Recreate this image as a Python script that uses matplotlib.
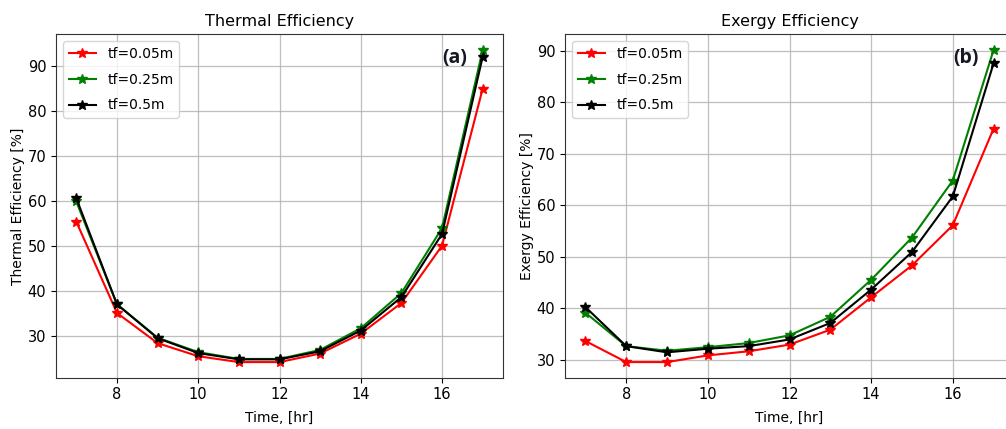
import matplotlib as mpl
mpl.use("Agg")
import matplotlib.pyplot as plt

# data
hours = [7, 8, 9, 10, 11, 12, 13, 14, 15, 16, 17]
labels = ["tf=0.05m", "tf=0.25m", "tf=0.5m"]
colors = ["red", "green", "black"]

thermal_005 = [55.4, 35.2, 28.5, 25.6, 24.3, 24.3, 26.2, 30.6, 37.4, 50.1, 84.9]
thermal_025 = [59.9, 37.1, 29.7, 26.5, 25.0, 25.0, 27.0, 31.8, 39.6, 54.0, 93.5]
thermal_05 = [60.6, 37.1, 29.6, 26.3, 24.9, 24.9, 26.7, 31.3, 38.7, 52.7, 92.0]

exergy_005 = [33.6, 29.5, 29.5, 30.8, 31.6, 32.9, 35.8, 42.1, 48.3, 56.1, 74.9]
exergy_025 = [39.1, 32.6, 31.7, 32.4, 33.2, 34.7, 38.3, 45.5, 53.7, 64.8, 90.2]
exergy_05 = [40.2, 32.6, 31.4, 32.1, 32.6, 33.9, 37.1, 43.6, 50.9, 61.7, 87.6]

plt.rcParams["font.size"] = 10

fig = plt.figure(figsize=(10.06, 4.29), dpi=100)
ax1 = fig.add_axes([56 / 1006, 51.3 / 429, 447 / 1006, 343.4 / 429])
ax2 = fig.add_axes([565 / 1006, 51.3 / 429, 449 / 1006, 343.4 / 429])

panels = [
    (ax1, [thermal_005, thermal_025, thermal_05], "Thermal Efficiency",
     "Thermal Efficiency [%]", "(a)"),
    (ax2, [exergy_005, exergy_025, exergy_05], "Exergy Efficiency",
     "Exergy Efficiency [%]", "(b)"),
]

for ax, series, title, ylabel, tag in panels:
    for vals, lab, c in zip(series, labels, colors):
        ax.plot(hours, vals, color=c, marker="*", markersize=7,
                linewidth=1.5, label=lab)
    ax.set_title(title, fontsize=11.5)
    ax.set_xlabel("Time, [hr]", labelpad=6)
    ax.set_ylabel(ylabel, labelpad=2)
    ax.set_xticks([8, 10, 12, 14, 16])
    ax.tick_params(labelsize=10.5)
    ax.grid(True, color="#b0b0b0", linewidth=0.9, alpha=0.8)
    ax.legend(loc="upper left", fontsize=10, labelspacing=0.85)
    ax.text(0.893, 0.93, tag, transform=ax.transAxes, ha="center",
            va="center", fontsize=14, fontweight="bold", family="Open Sans",
            color="#141824")
    for s in ax.spines.values():
        s.set_color("#333333")

fig.savefig("out.png", dpi=100)
